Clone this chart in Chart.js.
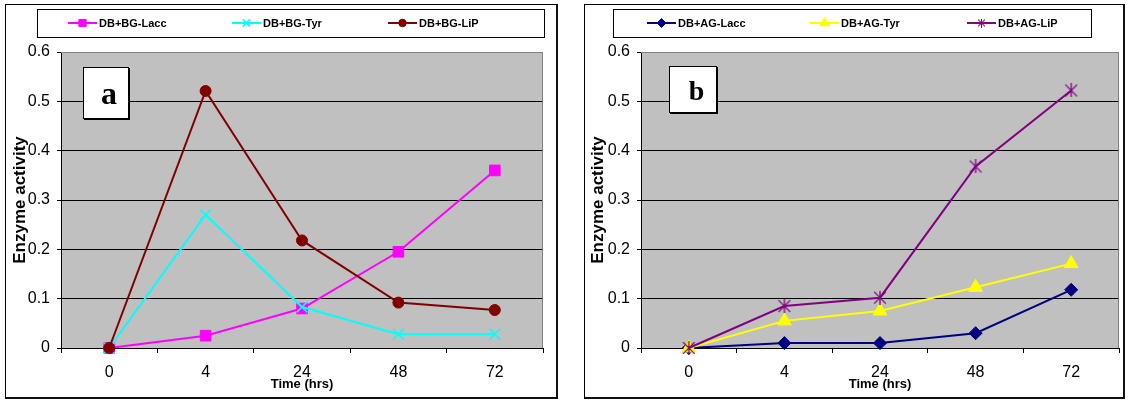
<!DOCTYPE html>
<html>
<head>
<meta charset="utf-8">
<title>Enzyme activity</title>
<script src="https://cdn.jsdelivr.net/npm/chart.js@4.4.1/dist/chart.umd.min.js"></script>
<style>
  html, body { margin: 0; padding: 0; background: #fff; width: 1128px; height: 400px; overflow: hidden; }
  .frame { position: absolute; box-sizing: border-box; border: 1px solid #000; border-right: 2px solid #111; border-bottom: 2px solid #111; }
  .holder { position: absolute; top: 0; height: 400px; }
  .holder canvas { display: block; }
  .tag { position: absolute; box-sizing: border-box; background: #fff; border: 1px solid #000;
         box-shadow: 1px 1px 0 #000; font-family: "Liberation Serif", "DejaVu Serif", serif;
         font-weight: bold; color: #000; text-align: center; }
</style>
</head>
<body>
<div class="frame" style="left:5px;top:4px;width:553px;height:395px"></div>
<div class="frame" style="left:584px;top:4px;width:541px;height:395px"></div>
<div class="holder" style="left:0;width:565px"><canvas id="chartA" width="565" height="400"></canvas></div>
<div class="holder" style="left:575px;width:553px"><canvas id="chartB" width="553" height="400"></canvas></div>
<div class="tag" style="left:83px;top:67px;width:46px;height:52px;font-size:32px;line-height:46px;padding-top:2px;padding-left:6px">a</div>
<div class="tag" style="left:669px;top:66px;width:48px;height:47px;font-size:28px;line-height:40px;padding-top:4px;padding-left:7px">b</div>
<script>
// Sampling times (hours) shown on the x axis
const categories = ['0', '4', '24', '48', '72'];

// y axis range and step
const yMin = 0;
const yMax = 0.6;
const yStep = 0.1;

// Panel a: DB + BG
const namesA = ['DB+BG-Lacc', 'DB+BG-Tyr', 'DB+BG-LiP'];
const laccA = [0, 0.025, 0.080, 0.195, 0.360];
const tyrA  = [0, 0.270, 0.083, 0.028, 0.028];
const lipA  = [0, 0.521, 0.218, 0.092, 0.077];

// Panel b: DB + AG
const namesB = ['DB+AG-Lacc', 'DB+AG-Tyr', 'DB+AG-LiP'];
const laccB = [0, 0.010, 0.010, 0.030, 0.118];
const tyrB  = [0, 0.055, 0.075, 0.123, 0.171];
const lipB  = [0, 0.085, 0.102, 0.368, 0.522];

const FONT = '"Liberation Sans", Arial, sans-serif';

// Asterisk marker: an X crossed by a vertical stroke
function starMarker(color, size, lw) {
  const c = document.createElement('canvas');
  c.width = size; c.height = size;
  const g = c.getContext('2d');
  g.strokeStyle = color; g.lineWidth = lw; g.lineCap = 'butt';
  const m = lw / 2 + 0.5, e = size - m, h = size / 2;
  g.beginPath();
  g.moveTo(m, m); g.lineTo(e, e);
  g.moveTo(e, m); g.lineTo(m, e);
  g.moveTo(h, 0); g.lineTo(h, size);
  g.stroke();
  return c;
}

function series(label, data, color, style, radius, order, extra) {
  return Object.assign({
    label, data, order,
    borderColor: color,
    backgroundColor: color,
    borderWidth: 2,
    pointStyle: style,
    pointRadius: radius,
    pointHoverRadius: radius,
    pointBackgroundColor: color,
    pointBorderColor: color,
    pointBorderWidth: 1,
    tension: 0,
    clip: false
  }, extra || {});
}

// Grey plot background and the plot-area frame
const plotArea = {
  id: 'plotArea',
  beforeDraw(chart) {
    const { ctx, chartArea: a } = chart;
    ctx.save();
    ctx.fillStyle = '#c0c0c0';
    ctx.fillRect(a.left, a.top, a.right - a.left, a.bottom - a.top);
    ctx.restore();
  },
  beforeDatasetsDraw(chart) {
    const { ctx, chartArea: a } = chart;
    ctx.save();
    ctx.strokeStyle = '#808080';
    ctx.lineWidth = 1;
    ctx.beginPath();
    ctx.moveTo(a.left, Math.round(a.top) + 0.5);
    ctx.lineTo(Math.round(a.right) - 0.5, Math.round(a.top) + 0.5);
    ctx.lineTo(Math.round(a.right) - 0.5, a.bottom);
    ctx.stroke();
    ctx.restore();
  }
};

// Boxed legend with line-and-marker samples above the plot
const boxLegend = {
  id: 'boxLegend',
  afterDraw(chart, args, opts) {
    const { ctx } = chart;
    const [l, t, r, b] = opts.box;
    const cy = (t + b) / 2;
    ctx.save();
    ctx.fillStyle = '#fff';
    ctx.fillRect(l, t, r - l, b - t);
    ctx.strokeStyle = '#000';
    ctx.lineWidth = 1;
    ctx.strokeRect(l + 0.5, t + 0.5, r - l, b - t);
    chart.data.datasets.forEach((ds, i) => {
      const x0 = opts.itemX[i];
      const lineLen = 29;
      ctx.strokeStyle = ds.borderColor;
      ctx.lineWidth = 2;
      ctx.beginPath();
      ctx.moveTo(x0, cy);
      ctx.lineTo(x0 + lineLen, cy);
      ctx.stroke();
      const style = opts.markers && opts.markers[i] ? opts.markers[i] : ds.pointStyle;
      ctx.fillStyle = ds.pointBackgroundColor;
      ctx.strokeStyle = ds.pointBorderColor;
      ctx.lineWidth = ds.pointBorderWidth;
      Chart.helpers.drawPoint(ctx, {
        pointStyle: style,
        radius: ds.pointRadius * 0.68,
        rotation: 0,
        borderWidth: ds.pointBorderWidth
      }, x0 + lineLen / 2, cy);
      ctx.fillStyle = '#000';
      ctx.font = 'bold 11px ' + FONT;
      ctx.textAlign = 'left';
      ctx.textBaseline = 'middle';
      ctx.fillText(ds.label, x0 + lineLen + 2, cy + 0.5);
    });
    ctx.restore();
  }
};

function buildOptions(layoutPad, yWidth, yTitlePad, legendOpts) {
  return {
    responsive: false,
    animation: false,
    events: [],
    layout: { padding: layoutPad },
    plugins: {
      legend: { display: false },
      tooltip: { enabled: false },
      boxLegend: legendOpts
    },
    scales: {
      x: {
        type: 'category',
        offset: true,
        afterFit(scale) { scale.height = 52; },
        grid: {
          offset: true,
          drawOnChartArea: false,
          drawTicks: true,
          tickLength: 5,
          color: '#000',
          lineWidth: 1
        },
        border: { color: '#000', width: 1 },
        ticks: { color: '#000', padding: 10, font: { family: FONT, size: 16 }, maxRotation: 0 },
        title: {
          display: true, text: 'Time (hrs)', color: '#000',
          font: { family: FONT, size: 13, weight: 'bold' },
          padding: { top: 0, bottom: 8 }
        }
      },
      y: {
        min: yMin, max: yMax,
        afterFit(scale) { scale.width = yWidth; },
        grid: {
          drawTicks: true,
          tickLength: 4,
          lineWidth: 1,
          color: (c) => (c.tick && Math.abs(c.tick.value - yMax) < 1e-9 ? '#808080' : '#000'),
          tickColor: '#000'
        },
        border: { color: '#000', width: 1 },
        ticks: { stepSize: yStep, color: '#000', padding: 7, font: { family: FONT, size: 16 } },
        title: {
          display: true, text: 'Enzyme activity', color: '#000',
          font: { family: FONT, size: 17, weight: 'bold' },
          padding: { top: yTitlePad, bottom: 0 }
        }
      }
    }
  };
}

new Chart(document.getElementById('chartA'), {
  type: 'line',
  data: {
    labels: categories,
    datasets: [
      series(namesA[0], laccA, '#ff00ff', 'rect', 7.5, 3),
      series(namesA[1], tyrA, '#00ffff', 'crossRot', 7.5, 2, { pointBorderWidth: 1.6 }),
      series(namesA[2], lipA, '#800000', 'circle', 5.5, 1)
    ]
  },
  options: buildOptions({ left: 0, top: 52, right: 22, bottom: 0 }, 61, 10,
    { box: [37, 9, 544, 37], itemX: [68, 232, 388] }),
  plugins: [plotArea, boxLegend]
});

const starBig = starMarker('#800080', 14, 1.3);
const starSmall = starMarker('#800080', 9, 1.1);

new Chart(document.getElementById('chartB'), {
  type: 'line',
  data: {
    labels: categories,
    datasets: [
      series(namesB[0], laccB, '#000080', 'rectRot', 6.5, 3),
      series(namesB[1], tyrB, '#ffff00', 'triangle', 8, 2),
      series(namesB[2], lipB, '#800080', starBig, 7, 1)
    ]
  },
  options: buildOptions({ left: 0, top: 52, right: 6, bottom: 0 }, 66, 13,
    { box: [38, 9, 516, 37], itemX: [72, 235, 392], markers: [null, null, starSmall] }),
  plugins: [plotArea, boxLegend]
});
</script>
</body>
</html>
